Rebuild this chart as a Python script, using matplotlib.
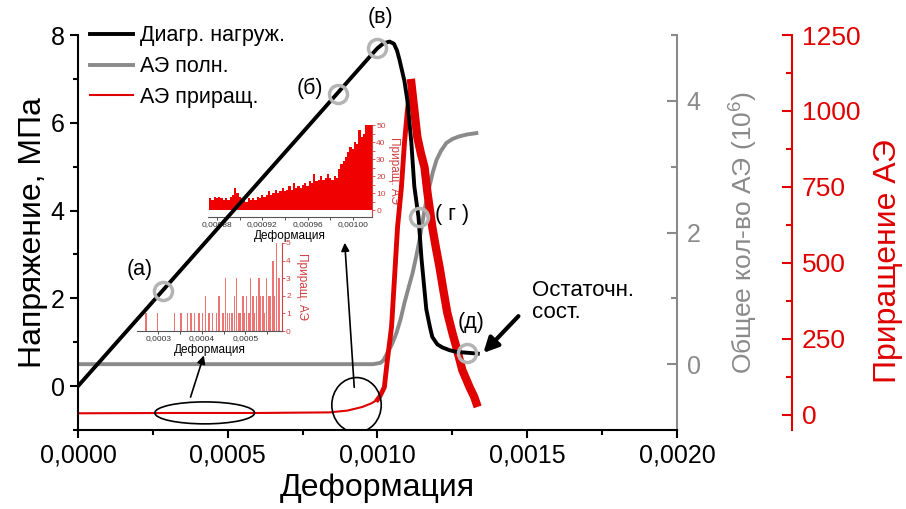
import numpy as np
import matplotlib
matplotlib.use('Agg')
import matplotlib.pyplot as plt
from matplotlib.lines import Line2D
from matplotlib.patches import Ellipse
from matplotlib.ticker import MultipleLocator, FuncFormatter

plt.rcParams['font.family'] = ['Liberation Sans', 'DejaVu Sans']
plt.rcParams['mathtext.fontset'] = 'custom'
plt.rcParams['mathtext.rm'] = 'Liberation Sans'

RED = '#e00000'
GRAY = '#8a8a8a'
CIRC = '#b4b4b4'

# диаграмма нагружения (деформация в 1e-3, напряжение в МПа)
load_strain = np.array([0.0, 0.98, 1.0, 1.02, 1.04, 1.055, 1.065, 1.073, 1.09, 1.10,
                        1.113, 1.123, 1.137, 1.147, 1.163, 1.175, 1.183, 1.20, 1.217,
                        1.24, 1.263, 1.30, 1.335]) * 1e-3
load_stress = [0.0, 7.55, 7.70, 7.81, 7.85, 7.80, 7.65, 7.45, 6.95, 6.50,
               5.55, 4.55, 3.85, 2.90, 1.75, 1.35, 1.12, 0.95, 0.88,
               0.82, 0.78, 0.76, 0.74]

# общее количество АЭ, 10^6
ae_strain = np.array([0.0, 0.985, 1.01, 1.02, 1.033, 1.048, 1.063, 1.077, 1.09, 1.103,
                      1.117, 1.13, 1.14, 1.148, 1.157, 1.165, 1.173, 1.185, 1.197,
                      1.212, 1.23, 1.25, 1.273, 1.30, 1.33]) * 1e-3
ae_total = [0.0, 0.0, 0.02, 0.06, 0.17, 0.30, 0.47, 0.68, 0.93, 1.15,
            1.38, 1.65, 1.88, 2.10, 2.34, 2.52, 2.69, 2.92, 3.10,
            3.24, 3.36, 3.42, 3.46, 3.49, 3.51]

# приращение АЭ
inc_strain = np.array([0.0, 0.30, 0.60, 0.84, 0.90, 0.95, 0.98, 1.0, 1.007, 1.023,
                       1.033, 1.047, 1.057, 1.067, 1.08, 1.09, 1.10, 1.113, 1.123,
                       1.133, 1.145, 1.157, 1.167, 1.183, 1.195, 1.207, 1.22, 1.233,
                       1.25, 1.263, 1.283, 1.307, 1.323, 1.33]) * 1e-3
inc_count = [5, 6, 6, 8, 14, 26, 38, 50, 59, 91,
             180, 290, 453, 618, 750, 894, 1003, 1092, 1003,
             914, 860, 815, 730, 618, 550, 487, 410, 336,
             270, 224, 148, 92, 59, 39]
i_rise, i_peak = 7, 17

# точки (а)-(д) на диаграмме
pt_strain = np.array([0.283, 0.867, 1.0, 1.14, 1.30]) * 1e-3
pt_stress = [2.17, 6.66, 7.70, 3.85, 0.76]
pt_names = ['(а)', '(б)', '(в)', '( г )', '(д)']
pt_text_x = np.array([0.207, 0.773, 1.01, 1.25, 1.313]) * 1e-3
pt_text_y = [2.65, 6.79, 8.39, 3.9, 1.44]

# вставка 1: приращение АЭ перед пиком
ins1_strain = 0.000874 + 0.000002 * np.arange(72)
ins1_count = [7, 6, 8, 7, 8, 7, 6, 7, 6, 8, 9, 13, 10, 8, 7, 6, 5, 7, 6, 7,
              6, 8, 7, 9, 8, 9, 11, 9, 10, 12, 10, 11, 13, 11, 12, 14, 12, 16, 13, 14,
              13, 15, 16, 14, 17, 16, 21, 17, 18, 20, 18, 19, 21, 19, 18, 20, 19, 24, 27, 29,
              31, 34, 37, 36, 40, 39, 47, 43, 45, 50, 50, 50]

# вставка 2: приращение АЭ на начальном участке
ins2_strain = np.array([2.72, 2.98, 3.37, 3.52, 3.67, 3.75, 3.83, 3.94, 4.02, 4.08,
                        4.16, 4.25, 4.34, 4.40, 4.48, 4.54, 4.59, 4.63, 4.69, 4.75,
                        4.80, 4.85, 4.89, 4.94, 4.98, 5.03, 5.08, 5.12, 5.17, 5.21,
                        5.26, 5.31, 5.35, 5.40, 5.44, 5.49, 5.54, 5.58, 5.63, 5.67,
                        5.72, 5.77]) * 1e-4
ins2_count = [1, 1, 1, 1, 1, 1, 1, 1, 1, 2,
              1, 1, 1, 2, 1, 3, 1, 1, 1, 2,
              3, 1, 1, 2, 1, 2, 1, 3, 2, 1,
              2, 3, 2, 2, 1, 3, 2, 2, 4, 2,
              5, 3]


def comma(fmt):
    return FuncFormatter(lambda v, p: fmt.format(v).replace('.', ','))


fig = plt.figure(figsize=(9.06, 5.09), dpi=100)
ax = fig.add_axes([0.0861, 0.1552, 0.6611, 0.776])
ax2 = ax.twinx()
ax3 = ax.twinx()

# вставки под основными кривыми
in1 = fig.add_axes([0.2296, 0.5737, 0.1810, 0.1807])
in2 = fig.add_axes([0.1512, 0.3497, 0.1600, 0.1729])
for a, z in [(in1, 0.5), (in2, 0.6), (ax2, 1), (ax3, 2), (ax, 3)]:
    a.set_zorder(z)
    a.patch.set_visible(False)

# основная ось: напряжение
ax.plot(load_strain, load_stress, color='black', lw=2.8)
ax.plot(pt_strain, pt_stress, 'o', ms=13, mfc='none', mec=CIRC, mew=2.5)
for name, tx, ty in zip(pt_names, pt_text_x, pt_text_y):
    ax.text(tx, ty, name, fontsize=15.5, ha='center', va='center', clip_on=False)
ax.set_xlim(0, 0.002)
ax.set_ylim(-1, 8)
ax.xaxis.set_major_locator(MultipleLocator(0.0005))
ax.xaxis.set_minor_locator(MultipleLocator(0.00025))
ax.xaxis.set_major_formatter(comma('{:.4f}'))
ax.yaxis.set_major_locator(MultipleLocator(2))
ax.yaxis.set_minor_locator(MultipleLocator(1))
ax.tick_params(which='both', direction='out', width=1.5, labelsize=18)
ax.tick_params(which='major', length=6)
ax.tick_params(which='minor', length=3.5)
ax.spines['top'].set_visible(False)
ax.spines['right'].set_visible(False)
for s in ['left', 'bottom']:
    ax.spines[s].set_linewidth(1.5)
ax.set_xlabel('Деформация', fontsize=23, labelpad=4)
ax.set_ylabel('Напряжение, МПа', fontsize=23, labelpad=2)

# овалы и стрелки к вставкам
ax.add_patch(Ellipse((0.000423, -0.61), 0.000333, 0.5, fill=False, ec='black', lw=1.2))
ax.add_patch(Ellipse((0.000930, -0.43), 0.000165, 1.25, fill=False, ec='black', lw=1.2))
ax.annotate('', xy=(0.000423, 0.76), xytext=(0.000373, -0.31),
            arrowprops=dict(arrowstyle='-|>', color='black', lw=1.2, mutation_scale=12))
ax.annotate('', xy=(0.000890, 3.33), xytext=(0.000923, -0.09),
            arrowprops=dict(arrowstyle='-|>', color='black', lw=1.2, mutation_scale=12))
ax.annotate('', xy=(0.001347, 0.71), xytext=(0.001477, 1.64),
            arrowprops=dict(arrowstyle='-|>', color='black', lw=3, mutation_scale=22))
ax.text(0.001517, 1.92, 'Остаточн.\nсост.', fontsize=16, ha='left', va='center',
        linespacing=1.05)

# общее количество АЭ
ax2.plot(ae_strain, ae_total, color=GRAY, lw=2.8)
ax2.set_ylim(-1, 5)
ax2.yaxis.set_major_locator(MultipleLocator(2))
ax2.yaxis.set_minor_locator(MultipleLocator(1))
for s in ['top', 'left', 'bottom']:
    ax2.spines[s].set_visible(False)
ax2.spines['right'].set_color(GRAY)
ax2.spines['right'].set_linewidth(1.5)
ax2.tick_params(which='both', direction='in', colors=GRAY, width=1.5, labelsize=18, pad=7)
ax2.tick_params(which='major', length=7)
ax2.tick_params(which='minor', length=4)
ax2.set_ylabel('Общее кол-во АЭ (10$^{6}$)', fontsize=19, color=GRAY, labelpad=18)

# приращение АЭ
ax3.plot(inc_strain, inc_count, color=RED, lw=1.5)
ax3.plot(inc_strain[i_rise:i_peak + 1], inc_count[i_rise:i_peak + 1], color=RED, lw=3.5)
ax3.plot(inc_strain[i_peak:], inc_count[i_peak:], color=RED, lw=6)
ax3.set_ylim(-50, 1250)
ax3.yaxis.set_major_locator(MultipleLocator(250))
ax3.yaxis.set_minor_locator(MultipleLocator(125))
for s in ['top', 'left', 'bottom']:
    ax3.spines[s].set_visible(False)
ax3.spines['right'].set_position(('outward', 82.8))
ax3.spines['right'].set_color(RED)
ax3.spines['right'].set_linewidth(1.5)
ax3.tick_params(which='both', direction='in', colors=RED, width=1.5, labelsize=19, pad=7)
ax3.tick_params(which='major', length=7)
ax3.tick_params(which='minor', length=4)
ax3.set_ylabel('Приращение АЭ', fontsize=23, color=RED)
ax3.yaxis.set_label_coords(1.327, 0.428)

# легенда
handles = [Line2D([], [], color='black', lw=2.8),
           Line2D([], [], color=GRAY, lw=2.8),
           Line2D([], [], color=RED, lw=1.5)]
ax.legend(handles, ['Диагр. нагруж.', 'АЭ полн.', 'АЭ приращ.'], loc='upper left',
          bbox_to_anchor=(0.006, 1.046), borderaxespad=0, frameon=False, fontsize=15.5,
          handlelength=2.0, handletextpad=0.33, labelspacing=0.45)

# вставка 1
in1.bar(ins1_strain, ins1_count, width=0.000002, color='#f00000', lw=0)
in1.set_xlim(0.000872, 0.001017)
in1.set_ylim(-4, 50)
in1.xaxis.set_major_locator(MultipleLocator(0.00004))
in1.xaxis.set_minor_locator(MultipleLocator(0.00002))
in1.xaxis.set_major_formatter(comma('{:.5f}'))
in1.yaxis.set_major_locator(MultipleLocator(10))
in1.yaxis.set_minor_locator(MultipleLocator(5))

# вставка 2
in2.bar(ins2_strain, ins2_count, width=0.0000035, color='#e00000', alpha=0.55, lw=0)
in2.set_xlim(0.000251, 0.000584)
in2.set_ylim(0, 5)
in2.xaxis.set_major_locator(MultipleLocator(0.0001))
in2.xaxis.set_minor_locator(MultipleLocator(0.00005))
in2.xaxis.set_major_formatter(comma('{:.4f}'))
in2.yaxis.set_major_locator(MultipleLocator(1))

for a in (in1, in2):
    a.yaxis.tick_right()
    a.yaxis.set_label_position('right')
    a.set_xlabel('Деформация', fontsize=8.5, labelpad=1)
    a.set_ylabel('Приращ. АЭ', fontsize=8.5, color='#d04040', rotation=270,
                 rotation_mode='default', ha='left', va='center')
    a.yaxis.set_label_coords(1.095, 0.5)
    a.spines['top'].set_visible(False)
    a.spines['left'].set_visible(False)
    a.spines['right'].set_color('#d04040')
    a.spines['bottom'].set_color('#555555')
    a.spines['bottom'].set_linewidth(0.8)
    a.spines['right'].set_linewidth(0.8)
    a.tick_params(axis='x', which='both', direction='out', labelsize=6, length=2,
                  width=0.6, pad=1, colors='#333333')
    a.tick_params(axis='y', which='both', direction='out', labelsize=6, length=2,
                  width=0.6, pad=1, colors='#d04040')

fig.savefig('out.png', dpi=100)
